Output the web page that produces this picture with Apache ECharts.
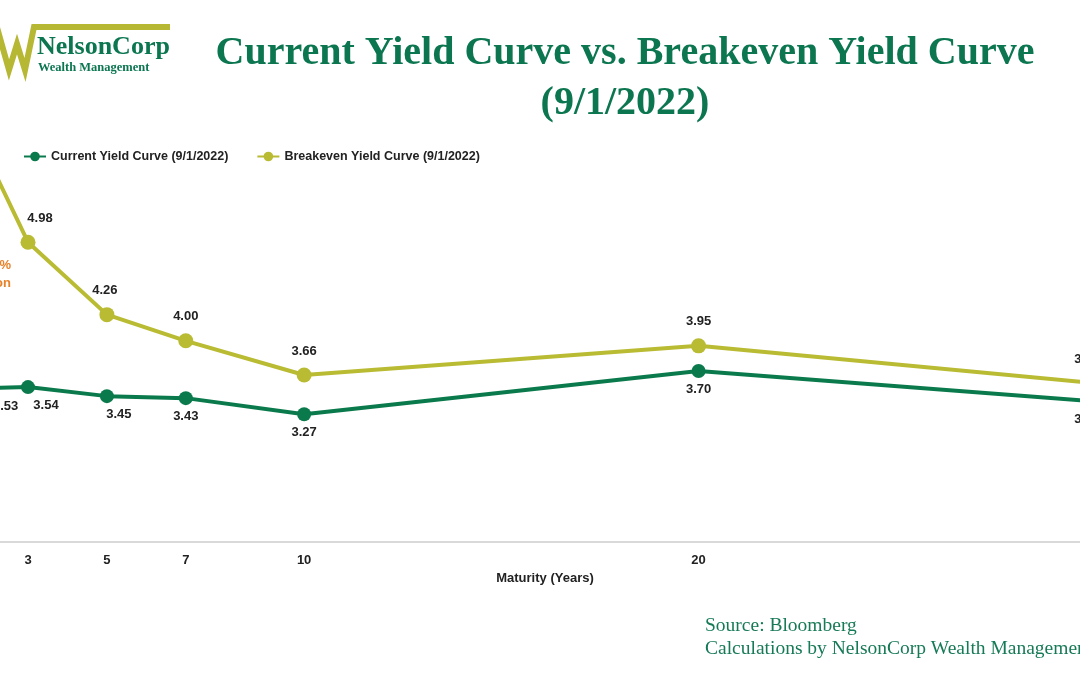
<!DOCTYPE html>
<html>
<head>
<meta charset="utf-8">
<script src="https://cdn.jsdelivr.net/npm/echarts@6/dist/echarts.min.js"></script>
<style>html,body{margin:0;padding:0;background:#fff;}#c{width:1080px;height:675px;}</style>
</head>
<body>
<div id="c"></div>
<script>
var maturities = [2, 3, 5, 7, 10, 20, 30];
var currentYield = [3.53, 3.54, 3.45, 3.43, 3.27, 3.70, 3.40];
var breakevenYield = [5.80, 4.98, 4.26, 4.00, 3.66, 3.95, 3.58];
var tickLabels = [3, 5, 7, 10, 20];
var seriesNames = ['Current Yield Curve (9/1/2022)', 'Breakeven Yield Curve (9/1/2022)'];

var GREEN = '#0a7a4c';
var OLIVE = '#b9bb33';
var TITLE_GREEN = '#0b7650';

// label nudges (x offsets in px) for readability, mirroring the reference
var curNudge = [17, 18, 12, 0, 0, 0, -6];
var beNudge = [-8, 12, -2, 0, 0, 0, -6];

function pts(vals, nudges) {
  return maturities.map(function (m, i) {
    return { value: [m, vals[i]], label: { offset: [nudges[i], 0] } };
  });
}

var chart = echarts.init(document.getElementById('c'));
var labelFont = { fontFamily: 'Liberation Sans', fontWeight: 'bold', fontSize: 13, color: '#222' };

chart.setOption({
  animation: false,
  backgroundColor: '#fff',
  title: {
    text: 'Current Yield Curve vs. Breakeven Yield Curve\n(9/1/2022)',
    left: 620, top: 24, textAlign: 'center',
    textStyle: { fontFamily: 'Liberation Serif', fontWeight: 'bold', fontSize: 40, color: TITLE_GREEN, lineHeight: 50 }
  },
  legend: {
    left: 18, top: 145, itemWidth: 22, itemHeight: 12, itemGap: 28,
    textStyle: { fontFamily: 'Liberation Sans', fontWeight: 'bold', fontSize: 12.5, color: '#222' },
    data: seriesNames
  },
  grid: { left: 0, right: 0, top: 39, bottom: 133 },
  xAxis: {
    type: 'value', min: 2.29, max: 29.67,
    name: 'Maturity (Years)', nameLocation: 'middle', nameGap: 21,
    nameTextStyle: Object.assign({}, labelFont, { padding: [0, 0, 0, 10] }),
    axisLine: { show: true, lineStyle: { color: '#d9d9d9', width: 2 } },
    axisTick: { show: false },
    splitLine: { show: false },
    axisLabel: Object.assign({ customValues: tickLabels, margin: 12 }, labelFont)
  },
  yAxis: {
    type: 'value', min: 2, max: 7,
    axisLine: { show: false }, axisTick: { show: false },
    axisLabel: { show: false }, splitLine: { show: false }
  },
  series: [
    {
      name: seriesNames[0], type: 'line', data: pts(currentYield, curNudge),
      symbol: 'circle', symbolSize: 14, clip: false,
      lineStyle: { color: GREEN, width: 4 }, itemStyle: { color: GREEN },
      label: Object.assign({ show: true, position: 'bottom', distance: 5, formatter: function (p) { return p.value[1].toFixed(2); } }, labelFont),
      z: 3
    },
    {
      name: seriesNames[1], type: 'line', data: pts(breakevenYield, beNudge),
      symbol: 'circle', symbolSize: 15, clip: false,
      lineStyle: { color: OLIVE, width: 4 }, itemStyle: { color: OLIVE },
      label: Object.assign({ show: true, position: 'top', distance: 10, formatter: function (p) { return p.value[1].toFixed(2); } }, labelFont),
      z: 2
    }
  ],
  graphic: [
    { type: 'polyline', shape: { points: [[-4, 24], [9, 70], [17, 44], [25, 70], [34, 27], [170, 27]] },
      style: { stroke: '#b6b733', lineWidth: 6, fill: null, lineJoin: 'miter' } },
    { type: 'text', left: 37, top: 34, style: { text: 'NelsonCorp', font: 'bold 26px "Liberation Serif"', fill: TITLE_GREEN } },
    { type: 'text', left: 38, top: 61, style: { text: 'Wealth Management', font: 'bold 12.5px "Liberation Serif"', fill: TITLE_GREEN } },
    { type: 'text', x: 11, y: 265, style: { text: '2.4%', align: 'right', verticalAlign: 'middle', font: 'bold 13px "Liberation Sans"', fill: '#e8822a' } },
    { type: 'text', x: 11, y: 283, style: { text: 'Inflation', align: 'right', verticalAlign: 'middle', font: 'bold 13px "Liberation Sans"', fill: '#e8822a' } },
    { type: 'text', left: 705, top: 614, style: { text: 'Source: Bloomberg\nCalculations by NelsonCorp Wealth Management', font: '19.5px "Liberation Serif"', fill: '#177a56', lineHeight: 23 } }
  ]
});
</script>
</body>
</html>
